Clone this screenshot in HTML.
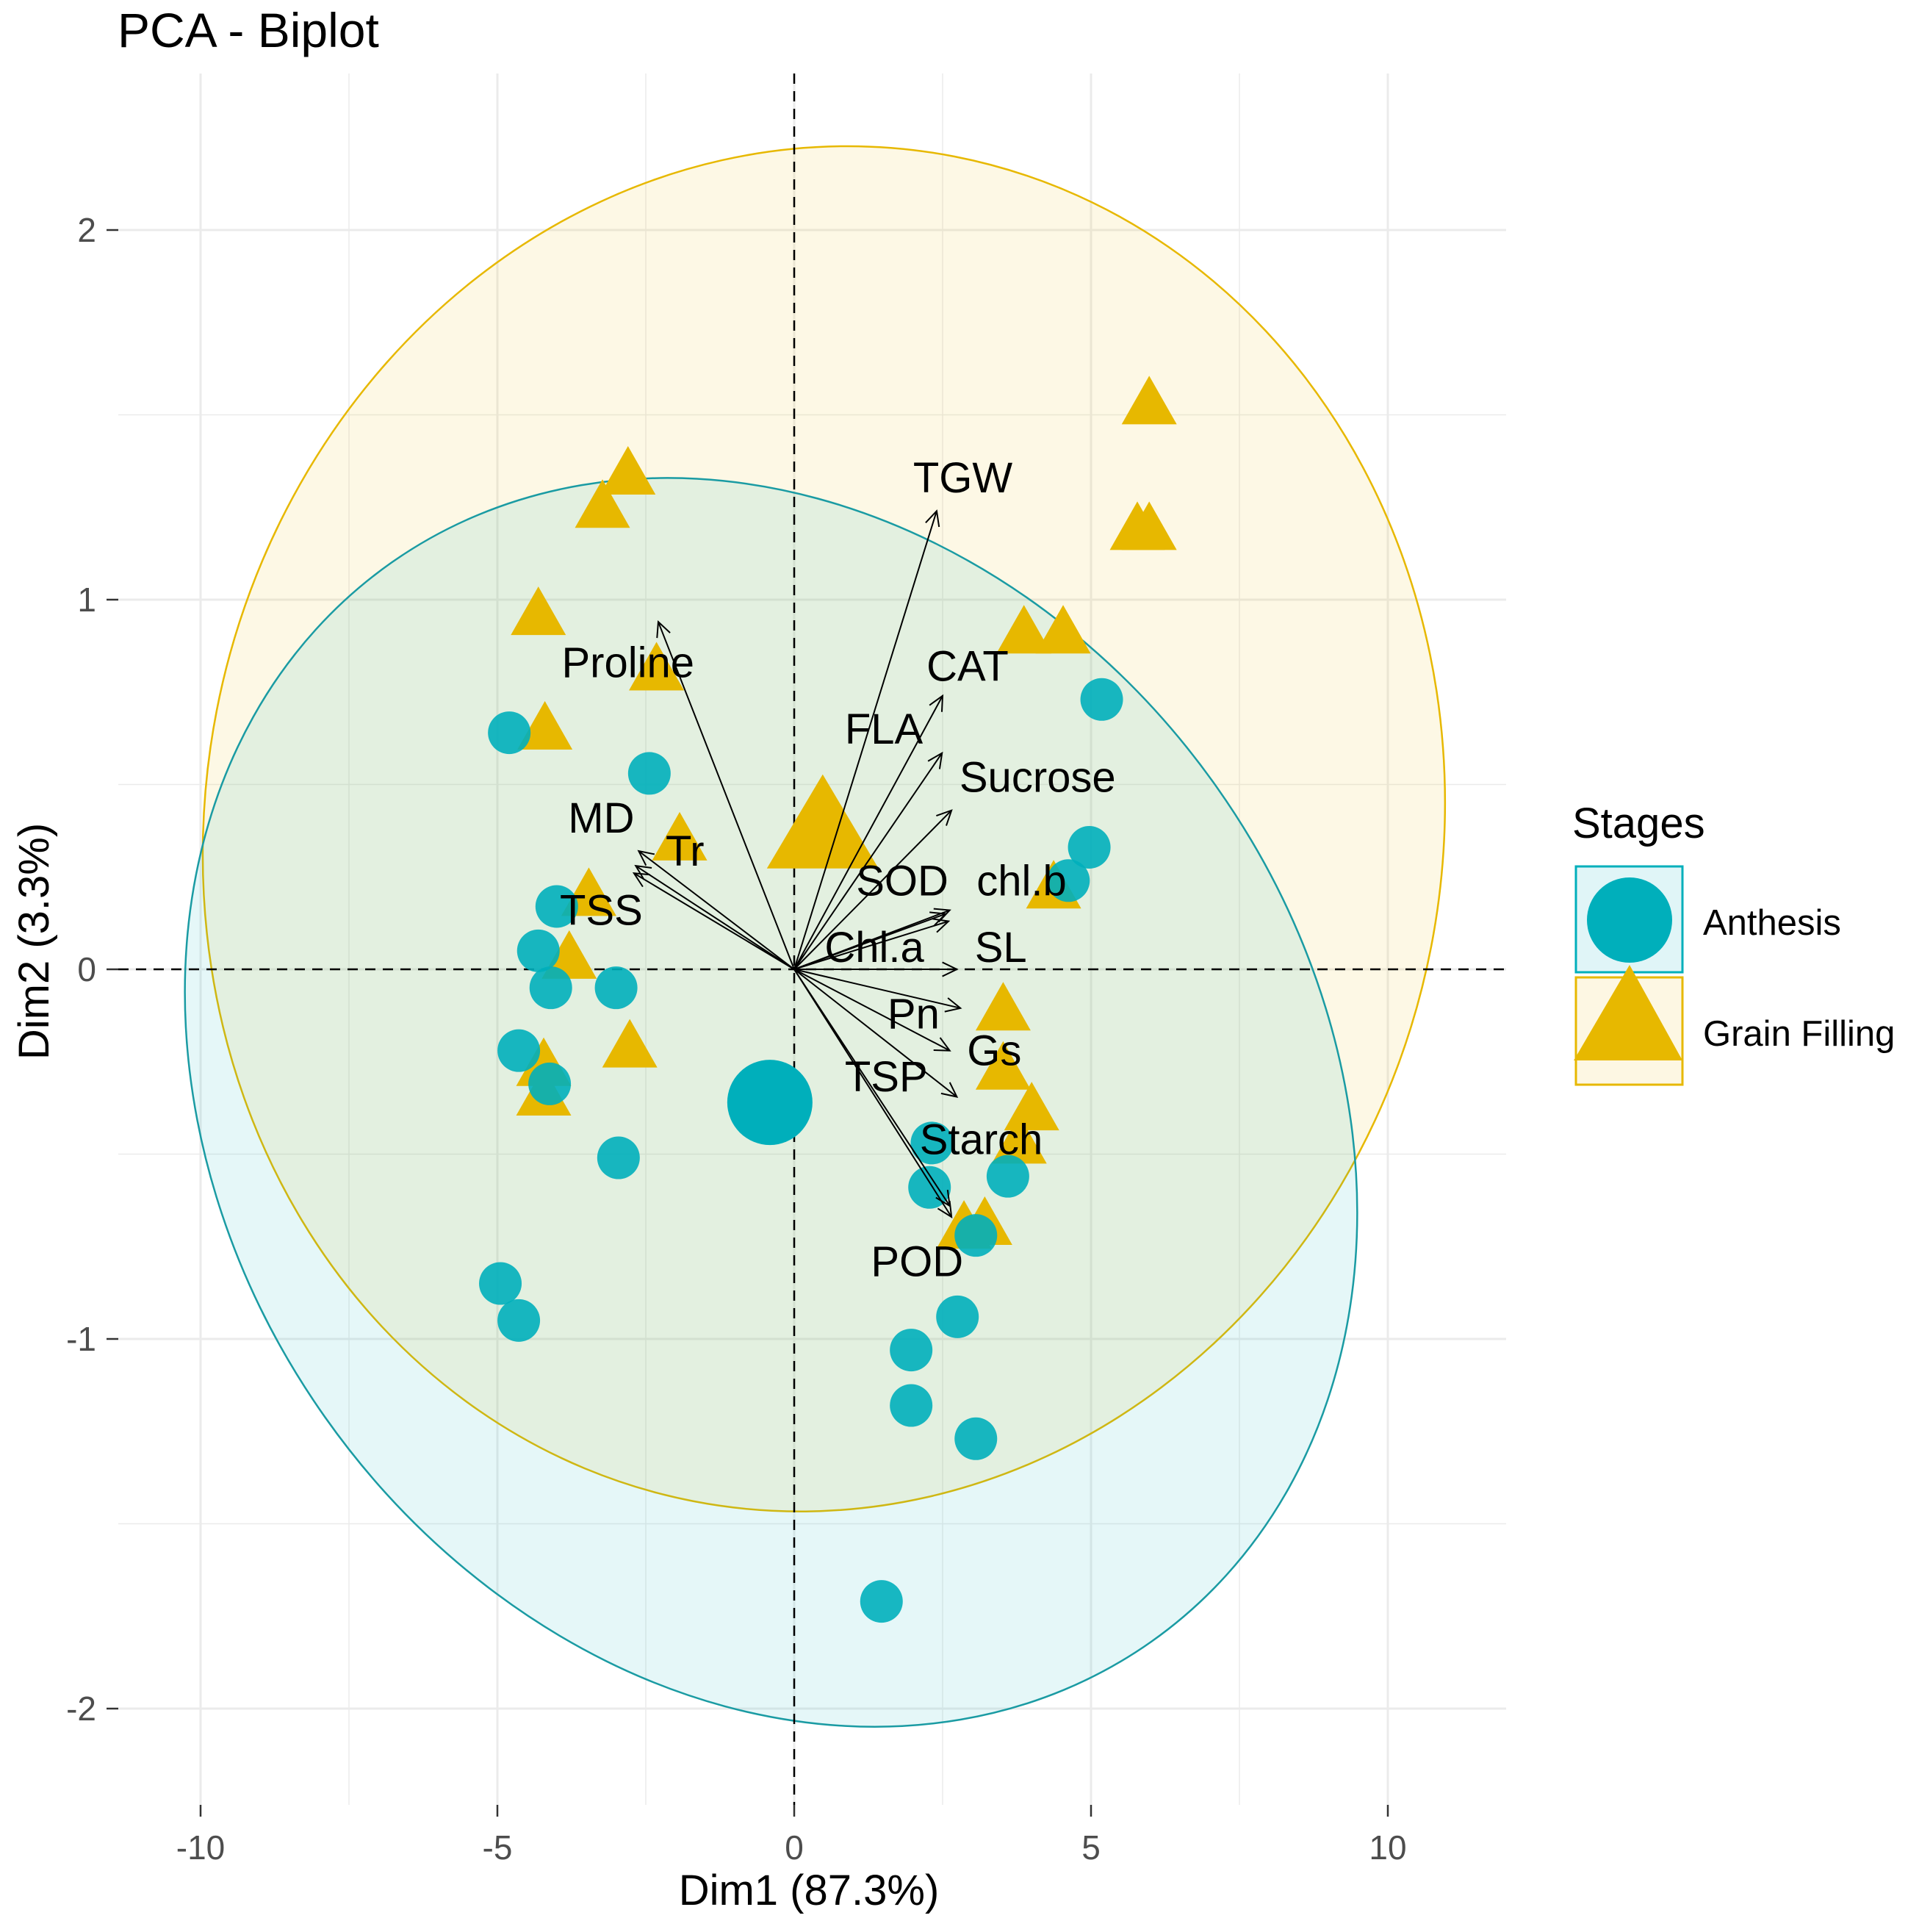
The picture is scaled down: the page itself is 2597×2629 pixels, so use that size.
<!DOCTYPE html>
<html><head><meta charset="utf-8"><style>
html,body{margin:0;padding:0;background:#fff}
svg{display:block}
text{font-family:"Liberation Sans",sans-serif}
</style></head><body>
<svg id="chart" width="2597" height="2629" viewBox="0 0 2597 2629" xmlns="http://www.w3.org/2000/svg">
<text x="160" y="64" font-size="66" fill="#000">PCA - Biplot</text>
<g id="grid"></g>
<g id="ellipses"></g>
<g id="axes0"></g>
<g id="points"></g>
<g id="arrows"></g>
<g id="ticks"></g>
<text x="1101" y="2592" font-size="58" text-anchor="middle" fill="#000">Dim1 (87.3%)</text>
<text x="0" y="0" font-size="58" text-anchor="middle" fill="#000" transform="translate(66,1281) rotate(-90)">Dim2 (3.3%)</text>
<g>
<text x="2140" y="1140" font-size="58" fill="#000">Stages</text>
<rect x="2145" y="1179" width="145" height="144" fill="#e0f5f7" stroke="#00AFBB" stroke-width="3"/>
<circle cx="2218" cy="1252" r="58" fill="#00AFBB"/>
<rect x="2145" y="1330" width="145" height="146" fill="#fdf7e3" stroke="#E7B800" stroke-width="3"/>
<polygon points="2218,1313 2290,1443 2142,1443" fill="#E7B800"/>
<text x="2318" y="1272" font-size="49" fill="#000">Anthesis</text>
<text x="2318" y="1423" font-size="49" fill="#000">Grain Filling</text>
</g>
</svg>
<script>
const anthX=[-4.80,-2.44,5.18,4.97,4.62,-4.00,-4.31,-4.10,-3.00,-4.64,-4.12,-2.96,2.32,2.28,3.60,3.06,2.75,1.97,1.97,3.06,-4.95,-4.64,1.47];
const anthY=[0.64,0.53,0.73,0.33,0.24,0.17,0.05,-0.05,-0.05,-0.22,-0.31,-0.51,-0.47,-0.59,-0.56,-0.72,-0.94,-1.03,-1.18,-1.27,-0.85,-0.95,-1.71];
const grainX=[5.98,-2.80,-3.23,5.78,5.98,-4.31,3.87,4.53,-2.32,-4.20,-1.93,-3.46,-3.79,4.37,3.52,-2.77,3.52,-4.22,-4.22,4.00,3.79,2.86,3.21];
const grainY=[1.54,1.35,1.26,1.20,1.20,0.97,0.92,0.92,0.82,0.66,0.36,0.21,0.04,0.23,-0.10,-0.20,-0.26,-0.25,-0.33,-0.37,-0.46,-0.69,-0.68];
const meanAnth=[-0.41,-0.36];
const meanGrain=[0.48,0.40];
const ellAnthCenter=[-0.39,-0.36];
const ellGrainCenter=[0.50,0.38];
const varNames=["TGW","Proline","CAT","FLA","Sucrose","MD","Tr","TSS","SOD","chl.b","Chl.a","SL","Pn","Gs","TSP","Starch","POD"];
const varX=[2.40,-2.29,2.50,2.49,2.65,-2.62,-2.67,-2.70,2.55,2.62,2.60,2.74,2.80,2.62,2.74,2.62,2.65];
const varY=[1.24,0.94,0.74,0.585,0.43,0.32,0.28,0.26,0.15,0.16,0.13,0.00,-0.105,-0.22,-0.345,-0.64,-0.67];
const labX=[2.84,-2.80,2.92,1.51,4.10,-3.25,-1.84,-3.25,1.82,3.83,1.35,3.48,2.01,3.37,1.55,3.15,2.07];
const labY=[1.33,0.83,0.82,0.65,0.52,0.41,0.32,0.16,0.24,0.24,0.06,0.06,-0.12,-0.22,-0.29,-0.46,-0.79];
const xTicks=[-10,-5,0,5,10];
const yTicks=[-2,-1,0,1,2];

const PL=161,PR=2050,PT=100,PB=2456;
const sx=u=>1081+80.8*u;
const sy=v=>1319-503*v;
const NS="http://www.w3.org/2000/svg";
function mk(tag,parent,attrs){const e=document.createElementNS(NS,tag);for(const k in attrs)e.setAttribute(k,attrs[k]);document.getElementById(parent).appendChild(e);return e;}

[-7.5,-2.5,2.5,7.5].forEach(u=>{const l=mk('line','grid',{x1:sx(u),x2:sx(u),y1:PT,y2:PB,stroke:'#ebebeb','stroke-width':1.5});

});
[-1.5,-0.5,0.5,1.5].forEach(v=>{const l=mk('line','grid',{x1:PL,x2:PR,y1:sy(v),y2:sy(v),stroke:'#ebebeb','stroke-width':1.5});

});
xTicks.forEach(u=>{const l=mk('line','grid',{x1:sx(u),x2:sx(u),y1:PT,y2:PB,stroke:'#ebebeb','stroke-width':3});

});
yTicks.forEach(v=>{const l=mk('line','grid',{x1:PL,x2:PR,y1:sy(v),y2:sy(v),stroke:'#ebebeb','stroke-width':3});

});

const gx=sx(ellGrainCenter[0]),gy=sy(ellGrainCenter[1]);
const eg=mk('ellipse','ellipses',{cx:gx,cy:gy,rx:932,ry:842,transform:`rotate(-79 ${gx} ${gy})`,fill:'#E7B800','fill-opacity':0.1,stroke:'#E7B800','stroke-width':2.5});


const ax=sx(ellAnthCenter[0]),ay=sy(ellAnthCenter[1]);
const ea=mk('ellipse','ellipses',{cx:ax,cy:ay,rx:898,ry:743,transform:`rotate(54.8 ${ax} ${ay})`,fill:'#00AFBB','fill-opacity':0.1,stroke:'#1a9ba3','stroke-width':2.5});



const zx=mk('line','axes0',{x1:PL,x2:PR,y1:sy(0),y2:sy(0),stroke:'#000','stroke-width':2.5,'stroke-dasharray':'14 10'});


const zy=mk('line','axes0',{x1:sx(0),x2:sx(0),y1:PT,y2:PB,stroke:'#000','stroke-width':2.5,'stroke-dasharray':'14 10'});



function tri(parent,cx,cy,w,h,name){const p=mk('polygon',parent,{points:`${cx},${cy-h/2} ${cx+w/2},${cy+h/2} ${cx-w/2},${cy+h/2}`,fill:'#E7B800'});

}
grainX.forEach((u,i)=>tri('points',sx(u),sy(grainY[i]),75,66,'point-grain-filling'));
anthX.forEach((u,i)=>{const c=mk('circle','points',{cx:sx(u),cy:sy(anthY[i]),r:29,fill:'#00AFBB','fill-opacity':0.9});

});
tri('points',sx(meanGrain[0]),sy(meanGrain[1]),152,128,'mean-grain-filling');
const mc=mk('circle','points',{cx:sx(meanAnth[0]),cy:sy(meanAnth[1]),r:58,fill:'#00AFBB'});



const ox=sx(0),oy=sy(0);
varNames.forEach((n,i)=>{
  const x=sx(varX[i]),y=sy(varY[i]);
  const l=mk('line','arrows',{x1:ox,y1:oy,x2:x,y2:y,stroke:'#000','stroke-width':2});
  
  
  const a=Math.atan2(y-oy,x-ox),L=22,s=0.45;
  const h=mk('path','arrows',{d:`M${x-L*Math.cos(a-s)},${y-L*Math.sin(a-s)} L${x},${y} L${x-L*Math.cos(a+s)},${y-L*Math.sin(a+s)}`,fill:'none',stroke:'#000','stroke-width':2});
  
  
  const t=mk('text','arrows',{x:sx(labX[i]),y:sy(labY[i])+20,'font-size':58,'text-anchor':'middle',fill:'#000'});
  t.textContent=n;
  
  
});

xTicks.forEach(u=>{const l=mk('line','ticks',{x1:sx(u),x2:sx(u),y1:PB,y2:PB+16,stroke:'#333','stroke-width':2.5});


const t=mk('text','ticks',{x:sx(u),y:PB+74,'font-size':46,'text-anchor':'middle',fill:'#4d4d4d'});
t.textContent=u;

});
yTicks.forEach(v=>{const l=mk('line','ticks',{x1:PL-16,x2:PL,y1:sy(v),y2:sy(v),stroke:'#333','stroke-width':2.5});


const t=mk('text','ticks',{x:PL-30,y:sy(v)+16,'font-size':46,'text-anchor':'end',fill:'#4d4d4d'});
t.textContent=v;

});
</script>
</body></html>
